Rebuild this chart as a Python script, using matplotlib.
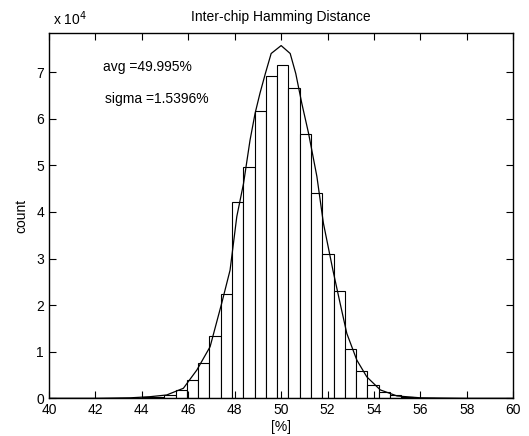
import numpy as np
import matplotlib
matplotlib.use('Agg')
import matplotlib.pyplot as plt
from matplotlib.ticker import FuncFormatter

plt.rcParams['font.family'] = ['Liberation Sans', 'DejaVu Sans']

# histogram bins (centre of middle bin, bin width) and counts
bin_center0 = 50.07
bin_width = 0.486
bin_index = np.arange(-14, 14)
counts = [50, 100, 200, 350, 800, 1700, 3860, 7500, 13400, 22300, 42100, 49700,
          61650, 69200, 71500, 66700, 56800, 44000, 30900, 23100, 10600, 5800,
          2850, 1300, 600, 250, 100, 50]

# fitted curve
curve_x = [40.0, 42.0, 43.5, 44.35, 45.07, 45.79, 46.37, 46.94, 47.44, 47.80,
           48.09, 48.38, 48.66, 48.88, 49.09, 49.32, 49.57, 50.0, 50.39, 50.63,
           50.89, 51.18, 51.54, 51.82, 52.23, 52.54, 52.83, 53.26, 53.69, 54.27,
           54.99, 56.0, 58.0, 60.0]
curve_y = [0, 0, 100, 340, 710, 2150, 6070, 11070, 20400, 27500,
           39000, 46100, 55400, 61200, 65500, 69700, 74000, 75700, 74000, 69700,
           63300, 56900, 47600, 37600, 27500, 20400, 13900, 8200, 4600, 1800,
           500, 100, 0, 0]

avg = 49.995
sigma = 1.5396

fig = plt.figure(figsize=(5.29, 4.36), dpi=100)
ax = fig.add_axes([0.0926, 0.0865, 0.8777, 0.8378])

centers = bin_center0 + bin_width * bin_index
ax.bar(centers, counts, width=bin_width, color='white', edgecolor='black', linewidth=0.8)
ax.plot(curve_x, curve_y, color='black', linewidth=0.9)

ax.set_xlim(40, 60)
ax.set_ylim(0, 78400)
ax.set_xticks(np.arange(40, 61, 2))
ax.set_yticks(np.arange(0, 70001, 10000))
ax.yaxis.set_major_formatter(FuncFormatter(lambda v, p: f"{v / 1e4:g}"))
ax.tick_params(direction='in', top=True, right=True, length=5, width=0.8, labelsize=10)
for s in ax.spines.values():
    s.set_linewidth(1.0)

ax.set_title('Inter-chip Hamming Distance', fontsize=10, pad=9)
ax.set_xlabel('[%]', fontsize=10, labelpad=2)
ax.set_ylabel('count', fontsize=10, labelpad=6)

ax.text(42.33, 71100, f'avg ={avg}%', fontsize=10, va='center')
ax.text(42.41, 64200, f'sigma ={sigma}%', fontsize=10, va='center')
fig.text(53 / 529, 1 - 25 / 436, r'x 10$^{4}$', fontsize=10, va='baseline')

fig.savefig('out.png', dpi=100)
